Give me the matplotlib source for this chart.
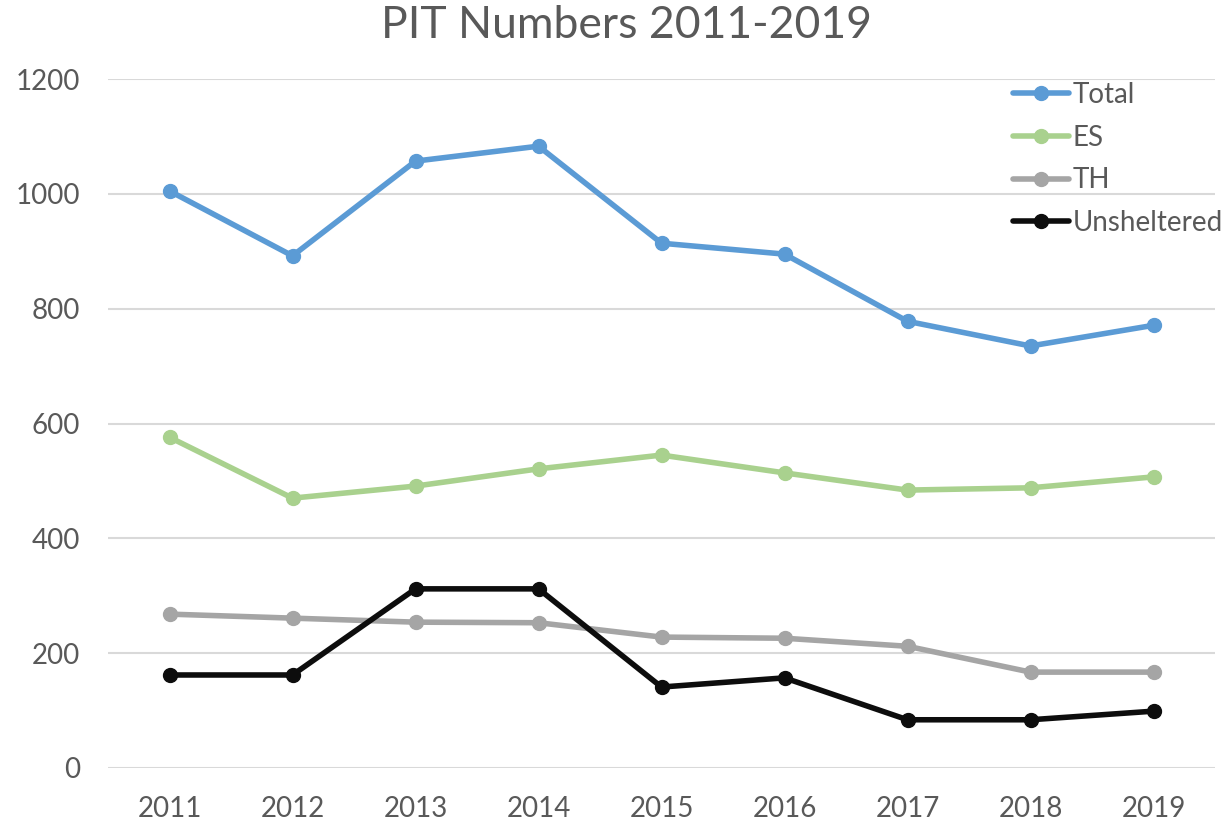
import matplotlib.pyplot as plt

# PIT counts
years = ["2011", "2012", "2013", "2014", "2015", "2016", "2017", "2018", "2019"]
total = [1005, 892, 1057, 1083, 914, 895, 778, 735, 771]
es = [576, 470, 491, 521, 545, 514, 484, 488, 507]
th = [268, 261, 254, 253, 228, 226, 212, 167, 167]
unsheltered = [162, 162, 312, 312, 141, 157, 84, 84, 99]

series = [
    ("Total", total, "#5B9BD5"),
    ("ES", es, "#A9D18E"),
    ("TH", th, "#A5A5A5"),
    ("Unsheltered", unsheltered, "#0D0D0D"),
]

plt.rcParams['font.family'] = ['Lato', 'DejaVu Sans']

fig = plt.figure(figsize=(12.3, 8.26), dpi=100)
ax = fig.add_axes([108 / 1230, 1 - 768 / 826, (1215 - 108) / 1230, (768 - 79) / 826])

x = range(len(years))
for name, vals, col in series:
    ax.plot(x, vals, color=col, lw=4.0, marker="o", markersize=10,
            label=name, solid_capstyle="round", zorder=3)

ax.set_xlim(-0.5, len(years) - 0.5)
ax.set_ylim(0, 1200)
ax.set_yticks(range(0, 1201, 200))
ax.set_xticks(list(x))
ax.set_xticklabels(years)
ax.grid(axis="y", color="#D9D9D9", lw=1.5, zorder=0)
ax.tick_params(length=0, labelsize=20, labelcolor="#595959")
ax.tick_params(axis="x", pad=20)
ax.tick_params(axis="y", pad=20)
for sp in ax.spines.values():
    sp.set_visible(False)

fig.suptitle("PIT Numbers 2011-2019", x=626 / 1230, y=1 - 25 / 826, va="center",
             fontsize=32, color="#595959")

leg = ax.legend(loc="upper left", bbox_to_anchor=(1002 / 1230, 1 - 71 / 826),
                bbox_transform=fig.transFigure, frameon=False, fontsize=20,
                labelcolor="#595959", handlelength=2.0, handletextpad=0.15,
                labelspacing=0.6, borderaxespad=0)

fig.savefig("out.png", dpi=100)
